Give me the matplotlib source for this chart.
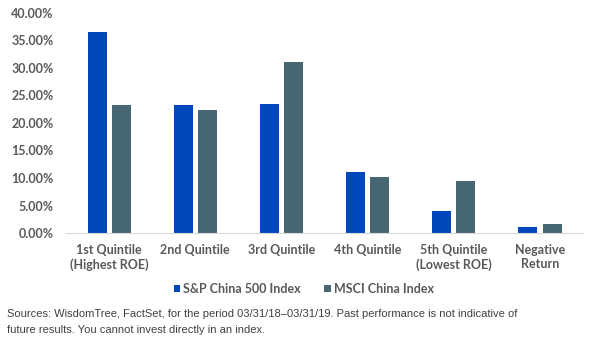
import matplotlib.pyplot as plt
import numpy as np
from matplotlib.ticker import FuncFormatter

categories = ["1st Quintile\n(Highest ROE)", "2nd Quintile", "3rd Quintile",
              "4th Quintile", "5th Quintile\n(Lowest ROE)", "Negative\nReturn"]
sp_china_500 = [36.5, 23.3, 23.5, 11.1, 4.0, 1.1]
msci_china = [23.3, 22.4, 31.1, 10.2, 9.5, 1.6]
series_names = ["S&P China 500 Index", "MSCI China Index"]

BLUE = "#0047BB"
SLATE = "#466771"
TEXT = "#595959"

fig = plt.figure(figsize=(5.92, 3.56), dpi=100)
ax = fig.add_axes([0.1115, 0.3455, 0.8735, 0.618])

x = np.arange(len(categories))
width = 0.22
ax.bar(x - 0.14, sp_china_500, width, color=BLUE, label=series_names[0])
ax.bar(x + 0.14, msci_china, width, color=SLATE, label=series_names[1])

ax.set_xlim(-0.5, len(categories) - 0.5)
ax.set_ylim(0, 40)
ax.set_yticks(np.arange(0, 41, 5))
ax.yaxis.set_major_formatter(FuncFormatter(lambda v, _: f"{v:.2f}%"))
ax.set_xticks(x)
ax.set_xticklabels(categories)

for side in ["top", "right", "left"]:
    ax.spines[side].set_visible(False)
ax.spines["bottom"].set_color("#d9d9d9")
ax.tick_params(axis="both", length=0, colors=TEXT)
ax.tick_params(axis="y", pad=9)
ax.tick_params(axis="x", pad=8)
for lbl in ax.get_xticklabels() + ax.get_yticklabels():
    lbl.set_fontfamily("Lato")
    lbl.set_fontweight("bold")
    lbl.set_fontsize(9)
    lbl.set_color(TEXT)
for lbl in ax.get_xticklabels():
    lbl.set_linespacing(1.2)

leg = fig.legend(loc="center", bbox_to_anchor=(0.513, 0.188), ncol=2, frameon=False,
                 handlelength=0.5, handleheight=0.5, handletextpad=0.25, columnspacing=1.9,
                 prop={"family": "Lato", "weight": "bold", "size": 9})
for t in leg.get_texts():
    t.set_color(TEXT)

fig.text(0.012, 0.096,
         "Sources: WisdomTree, FactSet, for the period 03/31/18\u201303/31/19. Past performance is not indicative of\n"
         "future results. You cannot invest directly in an index.",
         family="Liberation Sans", fontsize=8.0, color="#404040",
         va="center", linespacing=1.75)

fig.savefig("out.png", dpi=100)
